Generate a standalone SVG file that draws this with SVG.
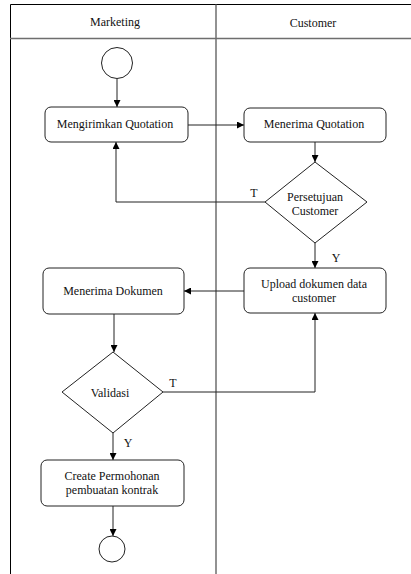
<svg xmlns="http://www.w3.org/2000/svg" width="411" height="574" viewBox="0 0 411 574" font-family="'Liberation Serif', 'Times New Roman', serif">
  <defs>
    <marker id="arrow" viewBox="0 0 10 10" refX="10" refY="5" markerWidth="7" markerHeight="7" markerUnits="userSpaceOnUse" orient="auto">
      <path d="M0,0 L10,5 L0,10 Z" fill="#000"/>
    </marker>
    <style>
      .lane { fill: none; stroke: #000; stroke-width: 1; }
      .sep { fill: none; stroke: #6e6e6e; stroke-width: 1.5; }
      .node { fill: #fff; stroke: #222; stroke-width: 1; }
      .conn { fill: none; stroke: #222; stroke-width: 1; }
      text { font-family: 'Liberation Serif', 'Times New Roman', serif; font-size: 12px; fill: #111; text-anchor: middle; }
    </style>
  </defs>

  <rect width="411" height="574" fill="#fff"/>

  <!-- swimlanes -->
  <g id="lanes">
    <path class="lane" d="M10.5,574 V4.5 H411"/>
    <path class="sep" d="M10,38.5 H411"/>
    <path class="sep" d="M216,4.5 V574"/>
    <text x="115" y="26">Marketing</text>
    <text x="313" y="27">Customer</text>
  </g>

  <!-- connectors -->
  <g id="connectors">
    <path class="conn" d="M117,79 V107" marker-end="url(#arrow)"/>
    <path class="conn" d="M188,125 H244" marker-end="url(#arrow)"/>
    <path class="conn" d="M315,142 V162" marker-end="url(#arrow)"/>
    <path class="conn" d="M265,202 H116 V142" marker-end="url(#arrow)"/>
    <path class="conn" d="M315,243 V268" marker-end="url(#arrow)"/>
    <path class="conn" d="M244,291 H184" marker-end="url(#arrow)"/>
    <path class="conn" d="M114,314 V352" marker-end="url(#arrow)"/>
    <path class="conn" d="M163,392 H315 V313" marker-end="url(#arrow)"/>
    <path class="conn" d="M113,433 V460" marker-end="url(#arrow)"/>
    <path class="conn" d="M113,506 V536" marker-end="url(#arrow)"/>
    <text x="254" y="197">T</text>
    <text x="336" y="262">Y</text>
    <text x="173" y="387">T</text>
    <text x="128" y="447">Y</text>
  </g>

  <g id="start">
    <circle class="node" cx="117" cy="63" r="15.5"/>
  </g>

  <g id="kirim-quotation">
    <rect class="node" x="45" y="107" width="143" height="35" rx="6"/>
    <text x="115" y="128">Mengirimkan  Quotation</text>
  </g>

  <g id="terima-quotation">
    <rect class="node" x="244" y="108" width="142" height="34" rx="6"/>
    <text x="314" y="128">Menerima  Quotation</text>
  </g>

  <g id="persetujuan">
    <polygon class="node" points="315,162 367,202 315,243 265,202"/>
    <text x="315" y="201">Persetujuan</text>
    <text x="315" y="215">Customer</text>
  </g>

  <g id="upload">
    <rect class="node" x="244" y="268" width="142" height="45" rx="6"/>
    <text x="314" y="288">Upload dokumen data</text>
    <text x="314" y="302">customer</text>
  </g>

  <g id="terima-dokumen">
    <rect class="node" x="43" y="268" width="141" height="46" rx="6"/>
    <text x="113" y="295">Menerima  Dokumen</text>
  </g>

  <g id="validasi">
    <polygon class="node" points="113,352 163,392 113,433 62,392"/>
    <text x="110" y="397">Validasi</text>
  </g>

  <g id="permohonan">
    <rect class="node" x="41" y="460" width="143" height="46" rx="6"/>
    <text x="112" y="480">Create Permohonan</text>
    <text x="112" y="494">pembuatan kontrak</text>
  </g>

  <g id="end">
    <circle class="node" cx="112" cy="549" r="13"/>
  </g>
</svg>
